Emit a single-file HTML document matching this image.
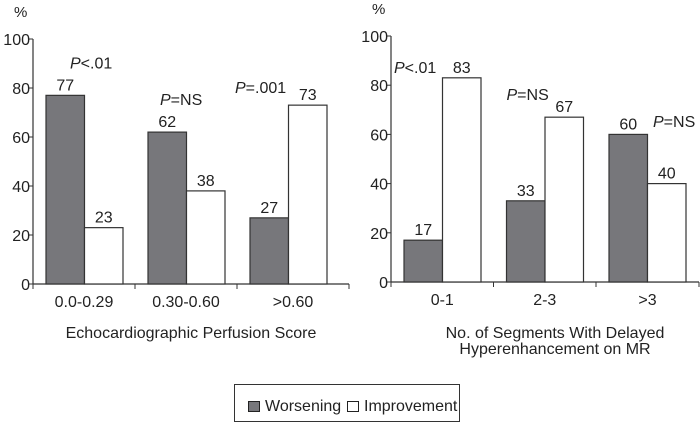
<!DOCTYPE html>
<html><head><meta charset="utf-8"><style>
body{margin:0;background:#fff;}
svg text{font-family:"Liberation Sans",Arial,sans-serif;fill:#222;}
</style></head><body>
<svg width="700" height="422" viewBox="0 0 700 422">
<g id="c1"></g>
<g id="c2"></g>
<text x="191" y="338" font-size="16" text-anchor="middle">Echocardiographic Perfusion Score</text>
<text x="555" y="338" font-size="16" text-anchor="middle">No. of Segments With Delayed</text>
<text x="555" y="354" font-size="16" text-anchor="middle">Hyperenhancement on MR</text>
<g>
<rect x="234.5" y="384.5" width="225" height="37" fill="#fff" stroke="#333" stroke-width="1"/>
<rect x="248.5" y="401.5" width="11" height="10" fill="#77777b" stroke="#222"/>
<text x="265" y="411" font-size="16">Worsening</text>
<rect x="347.5" y="401.5" width="11" height="10" fill="#fff" stroke="#222"/>
<text x="364" y="411" font-size="16">Improvement</text>
</g>
</svg>
<script>
const leftCategories=["0.0-0.29","0.30-0.60",">0.60"];
const leftWorsening=[77,62,27];
const leftImprovement=[23,38,73];
const leftPLabels=["P<.01","P=NS","P=.001"];
const leftPValues=[88,73,78];
const rightCategories=["0-1","2-3",">3"];
const rightWorsening=[17,33,60];
const rightImprovement=[83,67,40];
const rightPLabels=["P<.01","P=NS","P=NS"];
const rightPValues=[85,74,63];
const yTicks=[0,20,40,60,80,100];
const NS="http://www.w3.org/2000/svg";
function mk(parent,tag,attrs,text){const e=document.createElementNS(NS,tag);for(const k in attrs)e.setAttribute(k,attrs[k]);if(text!==undefined)e.textContent=text;parent.appendChild(e);return e;}
function draw(g,cfg,cats,wor,imp,pl,pv,pdx){
  const y=v=>cfg.y0-(cfg.y0-cfg.y100)*v/100;
  const gw=cfg.gw;
  const ax=mk(g,'line',{x1:cfg.x0,y1:cfg.y100,x2:cfg.x0,y2:cfg.y0,stroke:'#333','stroke-width':1.2});
  
  const bx=mk(g,'line',{x1:cfg.x0,y1:cfg.y0,x2:cfg.xEnd,y2:cfg.y0,stroke:'#333','stroke-width':1.2});
  
  yTicks.forEach(t=>{
    const l=mk(g,'line',{x1:cfg.x0-4,y1:y(t),x2:cfg.x0,y2:y(t),stroke:'#333'});
    
    const tx=mk(g,'text',{x:cfg.x0-3,y:y(t)+6,'font-size':16,'text-anchor':'end'},t);
    
  });
  const pc=mk(g,'text',{x:cfg.x0-19,y:cfg.y100-22,'font-size':15},'%');
  
  [cfg.x0,cfg.x0+gw,cfg.x0+2*gw,cfg.xEnd].forEach(tx=>{
    const l=mk(g,'line',{x1:tx,y1:cfg.y0,x2:tx,y2:cfg.y0+5,stroke:'#333'});
    
  });
  cats.forEach((c,i)=>{
    const gx=cfg.x0+gw*i, bw=38.5, dx=gx+13;
    const ge=i<2?gx+gw:cfg.xEnd;
    const r1=mk(g,'rect',{x:dx,y:y(wor[i]),width:bw,height:cfg.y0-y(wor[i]),fill:'#77777b',stroke:'#333','stroke-width':1.2});
    
    const r2=mk(g,'rect',{x:dx+bw,y:y(imp[i]),width:bw,height:cfg.y0-y(imp[i]),fill:'#fff',stroke:'#333','stroke-width':1.2});
    
    const t1=mk(g,'text',{x:dx+bw/2,y:y(wor[i])-5,'font-size':16,'text-anchor':'middle'},wor[i]);
    
    const t2=mk(g,'text',{x:dx+bw*1.5,y:y(imp[i])-5,'font-size':16,'text-anchor':'middle'},imp[i]);
    
    const cl=mk(g,'text',{x:(gx+ge)/2,y:cfg.y0+23,'font-size':16,'text-anchor':'middle'},c);
    
    const p=mk(g,'text',{x:gx+pdx[i],y:y(pv[i]),'font-size':16});
    
    mk(p,'tspan',{'font-style':'italic'},'P');
    mk(p,'tspan',{},pl[i].slice(1));
  });
}
draw(document.getElementById('c1'),{x0:33,xEnd:349,gw:102,y0:284,y100:39},leftCategories,leftWorsening,leftImprovement,leftPLabels,leftPValues,[37,25,-2]);
draw(document.getElementById('c2'),{x0:391,xEnd:699,gw:102.5,y0:282,y100:36},rightCategories,rightWorsening,rightImprovement,rightPLabels,rightPValues,[3,13,57]);
</script>
</body></html>
